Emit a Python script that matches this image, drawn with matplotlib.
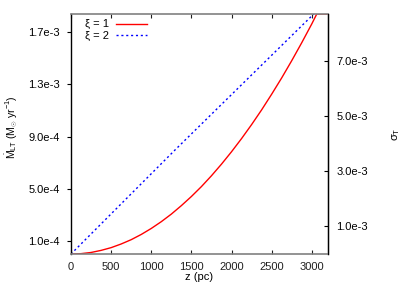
import matplotlib
matplotlib.use("Agg")
import matplotlib.pyplot as plt

plt.rcParams['font.family'] = ['Liberation Sans', 'DejaVu Sans']
plt.rcParams['font.size'] = 8
plt.rcParams['mathtext.fontset'] = 'custom'
plt.rcParams['mathtext.rm'] = 'Liberation Sans'
plt.rcParams['mathtext.it'] = 'Liberation Sans'

# data
z_red = [0, 125, 250, 375, 500, 625, 750, 875, 1000, 1125, 1250, 1375, 1500, 1625, 1750,
         1875, 2000, 2125, 2250, 2375, 2500, 2625, 2750, 2875, 3000, 3062, 3200]
m_red = [0, 3.0e-6, 1.2e-5, 2.8e-5, 4.9e-5, 7.7e-5, 1.10e-4, 1.50e-4, 1.96e-4, 2.48e-4,
         3.06e-4, 3.71e-4, 4.41e-4, 5.17e-4, 6.00e-4, 6.89e-4, 7.84e-4, 8.85e-4, 9.92e-4,
         1.105e-3, 1.225e-3, 1.350e-3, 1.482e-3, 1.620e-3, 1.764e-3, 1.84e-3, 1.84e-3]
z_blue = [0, 1300, 3025]
m_blue = [0, 8.0e-4, 1.84e-3]

left_ticks = [1.0e-4, 5.0e-4, 9.0e-4, 1.3e-3, 1.7e-3]
left_labels = ['1.0e-4', '5.0e-4', '9.0e-4', '1.3e-3', '1.7e-3']
right_ticks = [1.0e-3, 3.0e-3, 5.0e-3, 7.0e-3]
right_labels = ['1.0e-3', '3.0e-3', '5.0e-3', '7.0e-3']
x_ticks = [0, 500, 1000, 1500, 2000, 2500, 3000]

fig = plt.figure(figsize=(4.15, 2.91), dpi=100)
ax = fig.add_axes([0.171, 0.127, 0.619, 0.825])
ax.plot(z_red, m_red, color='#ff0000', lw=1.0, label='ξ = 1')
ax.plot(z_blue, m_blue, color='#0000ff', lw=1.0, linestyle=(0, (1.5, 2)), label='ξ = 2')
ax.set_xlim(0, 3200)
ax.set_ylim(0, 1.84e-3)
ax.set_xticks(x_ticks)
ax.set_xticklabels([str(v) for v in x_ticks])
ax.set_yticks(left_ticks)
ax.set_yticklabels(left_labels)
ax.tick_params(axis='x', direction='in', length=3, top=True, pad=6, colors='#202020')
ax.tick_params(axis='y', direction='out', length=3, pad=5, right=False)
for s in ['top', 'bottom']:
    ax.spines[s].set_color('#808080')
    ax.spines[s].set_linewidth(1.2)
for s in ['left', 'right']:
    ax.spines[s].set_color('black')
    ax.spines[s].set_linewidth(1.0)
ax.set_xlabel('z (pc)', labelpad=0)
ax.set_ylabel(r'$\dot{\rm M}_{\rm LT}$ (M$_{\odot}$ yr$^{-1}$)', fontsize=7.5)
ax.yaxis.set_label_coords(-0.2, 0.53)

leg = ax.legend(loc='upper left', frameon=False, markerfirst=False, handlelength=2.8,
                handletextpad=0.6, labelspacing=0.1, borderaxespad=0.2,
                bbox_to_anchor=(0.03, 1.005))

ax2 = ax.twinx()
ax2.set_ylim(0, 8.7e-3)
ax2.set_yticks(right_ticks)
ax2.set_yticklabels(right_labels)
ax2.tick_params(axis='y', direction='in', length=3, pad=6)
for s in ['top', 'bottom', 'left']:
    ax2.spines[s].set_visible(False)
ax2.spines['right'].set_color('black')
ax2.set_ylabel(r'$\sigma_{\rm T}$', labelpad=16)

fig.savefig('out.png', dpi=100)
